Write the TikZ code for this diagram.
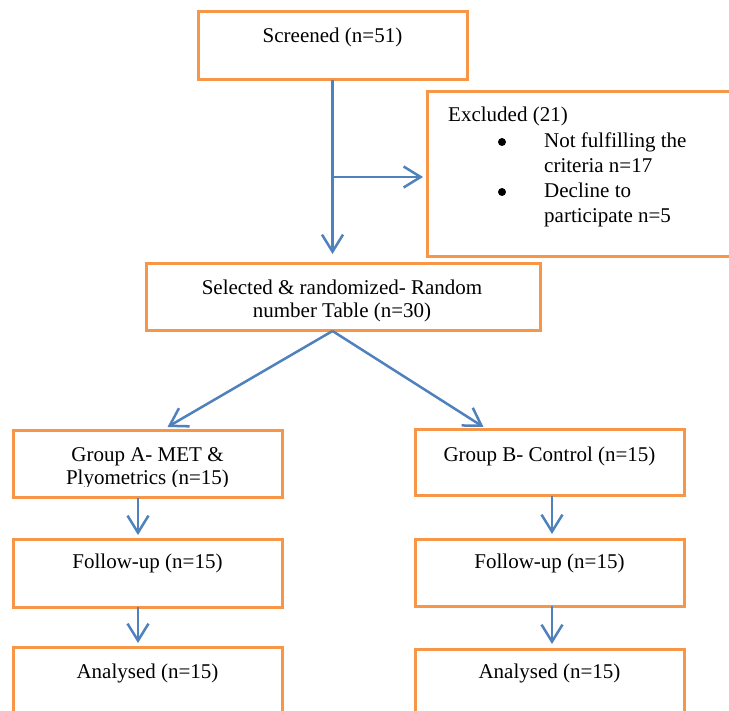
\documentclass[tikz,border=0pt]{standalone}
\usepackage{fontspec}
\setmainfont{Liberation Serif}
\usetikzlibrary{arrows.meta,positioning}
\definecolor{boxorange}{RGB}{247,150,70}
\definecolor{arrowblue}{RGB}{79,129,189}

\begin{document}
\begin{tikzpicture}[x=1pt,y=-1pt,
  flowbox/.style={draw=boxorange,line width=3pt,rectangle,inner sep=0pt,
    outer sep=0pt,anchor=north west,minimum width=269pt},
  flowarrow/.style={-{Straight Barb[length=17pt,width=21pt]},
    color=arrowblue,line width=2.5pt},
  txt/.style={inner sep=0pt,font=\fontsize{21}{25}\selectfont,anchor=base},
  bulletdot/.style={circle,fill=black,inner sep=0pt,minimum size=8pt}]
\useasboundingbox (0,0) rectangle (729,711);
% boxes
\node[flowbox,minimum height=68pt] (scr) at (198,12) {};
\node[flowbox,minimum width=320pt,minimum height=165pt] (excl) at (427,92) {};
\node[flowbox,minimum width=394pt,minimum height=67pt] (sel) at (146,264) {};
\node[flowbox,minimum height=67pt] (grpA) at (13,431) {};
\node[flowbox,minimum height=66pt] (grpB) at (415,430) {};
\node[flowbox,minimum height=68pt] (fupA) at (13,539) {};
\node[flowbox,minimum height=67pt] (fupB) at (415,539) {};
\node[flowbox,minimum height=100pt] (anaA) at (13,647) {};
\node[flowbox,minimum height=100pt] (anaB) at (415,649) {};
% texts
\node[txt] (scrtxt) at (332.5,43) {Screened (n=51)};
\node[txt,anchor=base west] (extitle) at (448,122) {Excluded (21)};
\node[bulletdot] (bulA) at (502,142) {};
\node[bulletdot] (bulB) at (502,192) {};
\foreach \y/\t in {148/Not fulfilling the,173/criteria n=17,
                   198/Decline to,223/participate n=5}{
  \node[txt,anchor=base west] (ex\y) at (544,\y) {\t};}
\node[txt] (seltxtA) at (342,295) {Selected \& randomized- Random};
\node[txt] (seltxtB) at (342,318) {number Table (n=30)};
\node[txt] (grpAtxt) at (147.5,462) {Group A- MET \&};
\begin{scope}
\clip (13,431) rectangle (282,487);
\node[txt] (grpAtxtB) at (147.5,485) {Plyometrics (n=15)};
\end{scope}
\node[txt] (grpBtxt) at (549.5,461) {Group B- Control (n=15)};
\node[txt] (fupAtxt) at (147.5,568) {Follow-up (n=15)};
\node[txt] (fupBtxt) at (549.5,568) {Follow-up (n=15)};
\node[txt] (anaAtxt) at (147.5,678) {Analysed (n=15)};
\node[txt] (anaBtxt) at (549.5,678) {Analysed (n=15)};
% connectors
\coordinate (fork) at (332.5,177);
\draw[flowarrow,shorten >=10pt] (scr.south) -- (scr.south |- sel.north);
\draw[flowarrow,shorten >=4pt] (fork) -- (fork -| excl.west);
\draw[flowarrow] (scr.south |- sel.south) -- ([xshift=20pt,yshift=4pt]grpA.north);
\draw[flowarrow] (scr.south |- sel.south) -- ([xshift=-66pt,yshift=3pt]grpB.north);
\draw[flowarrow,shorten >=4pt] ([xshift=-9.5pt]grpA.south) -- ([xshift=-9.5pt]fupA.north);
\draw[flowarrow,shorten >=4pt] ([xshift=-9.5pt]fupA.south) -- ([xshift=-9.5pt]anaA.north);
\draw[flowarrow,shorten >=5pt] ([xshift=2.5pt]grpB.south) -- ([xshift=2.5pt]fupB.north);
\draw[flowarrow,shorten >=5pt] ([xshift=2.5pt]fupB.south) -- ([xshift=2.5pt]anaB.north);
\end{tikzpicture}
\end{document}
